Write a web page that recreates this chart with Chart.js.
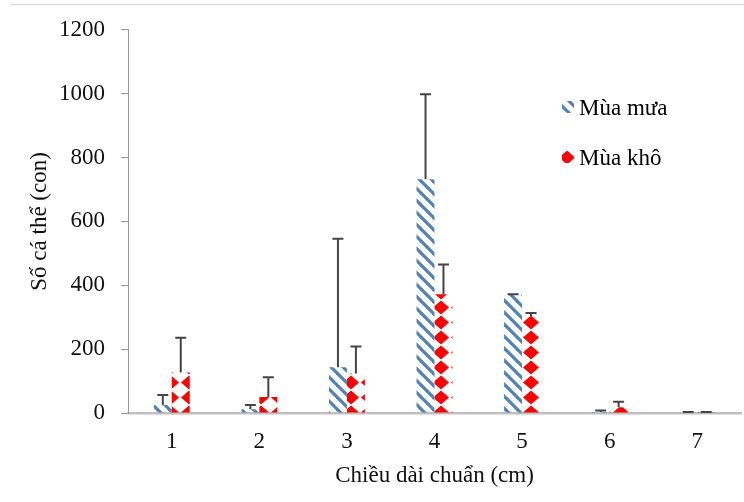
<!DOCTYPE html>
<html>
<head>
<meta charset="utf-8">
<title>Số cá thể theo chiều dài chuẩn</title>
<script src="https://cdn.jsdelivr.net/npm/chart.js"></script>
<style>
  html, body { margin: 0; padding: 0; background: #fff; }
</style>
</head>
<body>
<canvas id="length-chart" width="744" height="502"></canvas>

<script>
    // values
    const lengths = ['1', '2', '3', '4', '5', '6', '7'];
    const rainySeason = [25, 12, 143, 732, 370, 3, 1];
    const rainyError = [31, 13, 403, 266, 2, 5, 2];
    const drySeason = [127, 50, 124, 372, 304, 18, 1];
    const dryError = [109, 62, 84, 93, 9, 17, 2];

    const serif = "'Liberation Serif', 'Times New Roman', serif";

    // blue diagonal stripes
    function stripePattern() {
        const c = document.createElement('canvas');
        c.width = 12; c.height = 12;
        const g = c.getContext('2d');
        g.strokeStyle = '#4f81bd';
        g.lineWidth = 3.2;
        for (let k = -1; k <= 1; k++) {
            g.beginPath();
            g.moveTo(-2, k * 12 - 2);
            g.lineTo(14, k * 12 + 14);
            g.stroke();
        }
        return g.createPattern(c, 'repeat');
    }

    // red diamonds (rotated checkerboard)
    function diamondPattern() {
        const c = document.createElement('canvas');
        c.width = 18; c.height = 15;
        const g = c.getContext('2d');
        g.fillStyle = '#ff0000';
        g.beginPath();
        g.moveTo(9, 0.5);
        g.lineTo(17, 7.5);
        g.lineTo(9, 14.5);
        g.lineTo(1, 7.5);
        g.closePath();
        g.fill();
        return g.createPattern(c, 'repeat');
    }

    const errorBars = {
        id: 'errorBars',
        afterDatasetsDraw(chart) {
            const ctx = chart.ctx;
            const y = chart.scales.y;
            ctx.save();
            ctx.strokeStyle = '#454545';
            ctx.lineWidth = 2;
            chart.data.datasets.forEach((ds, i) => {
                chart.getDatasetMeta(i).data.forEach((bar, j) => {
                    const top = y.getPixelForValue(ds.data[j] + ds.errors[j]);
                    ctx.beginPath();
                    ctx.moveTo(bar.x, bar.y);
                    ctx.lineTo(bar.x, top);
                    ctx.moveTo(bar.x - 5.5, top);
                    ctx.lineTo(bar.x + 5.5, top);
                    ctx.stroke();
                });
            });
            ctx.restore();
        }
    };

    const sideLegend = {
        id: 'sideLegend',
        afterDraw(chart) {
            const ctx = chart.ctx;
            ctx.save();
            ctx.font = '23px ' + serif;
            ctx.textBaseline = 'alphabetic';
            chart.data.datasets.forEach((ds, i) => {
                const top = 101 + i * 50;
                ctx.fillStyle = ds.backgroundColor;
                ctx.fillRect(562, top, 12, 12);
                ctx.fillStyle = '#000';
                ctx.fillText(ds.label, 579, top + 14);
            });
            ctx.restore();
        }
    };

    const frameLine = {
        id: 'frameLine',
        beforeDraw(chart) {
            const ctx = chart.ctx;
            ctx.save();
            ctx.strokeStyle = '#dcdcdc';
            ctx.lineWidth = 1.5;
            ctx.beginPath();
            ctx.moveTo(10, 4.5);
            ctx.lineTo(744, 4.5);
            ctx.stroke();
            ctx.restore();
        }
    };

    const ctx = document.getElementById('length-chart').getContext('2d');
    new Chart(ctx, {
        type: 'bar',
        data: {
            labels: lengths,
            datasets: [{
                label: 'Mùa mưa',
                data: rainySeason,
                errors: rainyError,
                backgroundColor: stripePattern(),
                borderWidth: 0
            }, {
                label: 'Mùa khô',
                data: drySeason,
                errors: dryError,
                backgroundColor: diamondPattern(),
                borderWidth: 0
            }]
        },
        options: {
            responsive: false,
            animation: false,
            categoryPercentage: 0.41,
            barPercentage: 1,
            layout: { padding: { top: 26, right: 3, left: 0, bottom: 0 } },
            plugins: {
                legend: { display: false },
                tooltip: { enabled: false }
            },
            scales: {
                x: {
                    afterFit: s => { s.height = 89; },
                    grid: { display: false, drawTicks: false },
                    border: { color: '#bfbfbf', width: 2.5 },
                    ticks: { color: '#111', padding: 15, font: { family: serif, size: 23 } },
                    title: {
                        display: true,
                        text: 'Chiều dài chuẩn (cm)',
                        color: '#111',
                        font: { family: serif, size: 23 },
                        padding: { top: 0, bottom: 12 }
                    }
                },
                y: {
                    min: 0,
                    max: 1200,
                    afterFit: s => { s.width = 128; },
                    grid: { drawOnChartArea: false, drawTicks: true, tickLength: 7, color: '#9a9a9a' },
                    border: { color: '#9a9a9a', width: 1 },
                    ticks: {
                        stepSize: 200,
                        color: '#111',
                        padding: 16,
                        font: { family: serif, size: 23 },
                        callback: v => String(v)
                    },
                    title: {
                        display: true,
                        text: 'Số cá thể (con)',
                        color: '#111',
                        font: { family: serif, size: 23 },
                        padding: { top: 26, bottom: 0 }
                    }
                }
            }
        },
        plugins: [frameLine, errorBars, sideLegend]
    });
</script>
</body>
</html>
